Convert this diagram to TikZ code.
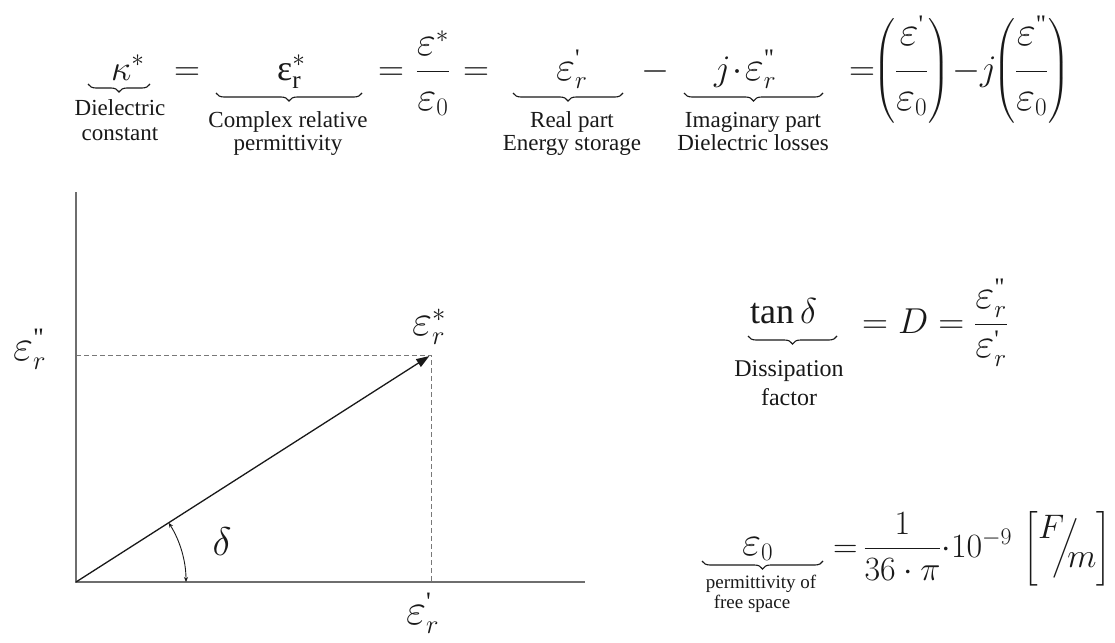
\RequirePackage{fix-cm}
\documentclass[tikz,border=0pt]{standalone}
\usepackage{amsmath}
\usepackage{graphicx}
\usepackage{fontspec}
\setmainfont{Liberation Serif}
\usetikzlibrary{arrows.meta,decorations.pathreplacing}
\newcommand\sqm{\text{\textquotesingle}}
\newcommand\dqm{\text{\textquotedbl}}
\newcommand\ueps{\text{\upshape ε}}
\newcommand\ve{\mathord{\scalebox{1.15}{$\varepsilon$}}}
\newcommand\numdepth{\rule[-0.6em]{0pt}{0pt}}
\definecolor{axisgray}{RGB}{110,110,110}
\definecolor{guidegray}{RGB}{120,120,120}
\definecolor{ink}{RGB}{25,25,25}
\tikzset{
  mathnode/.style={font=\fontsize{36}{40}\selectfont, inner sep=0pt, anchor=base west, text=ink},
  lbl/.style={font=\fontsize{23}{25}\selectfont, inner sep=0pt, anchor=base, text=ink},
  ubrace/.style={decorate, decoration={brace, mirror, amplitude=8pt}, line width=1.1pt, draw=ink},
  axisline/.style={line width=2pt, draw=axisgray},
  guide/.style={line width=1pt, draw=guidegray, dash pattern=on 5pt off 3pt},
  vec/.style={line width=1.3pt, draw=ink, -{Triangle[length=13pt,width=9pt]}, shorten >=2pt},
  anglearc/.style={line width=0.9pt, draw=ink, {Stealth[length=5pt,width=4pt]}-{Stealth[length=5pt,width=4pt]}},
}
\begin{document}
\begin{tikzpicture}[x=1pt,y=-1pt]
\useasboundingbox[fill=white] (0,0) rectangle (1115,642);

% ---------- top equation ----------
\node[mathnode] (kap) at (111,80) {$\kappa^{*}$};
\node[mathnode, anchor=base] (eq1) at (187,80) {$=$};
\node[mathnode] (epsr) at (277,80) {$\ueps_{\mathrm{r}}^{*}$};
\node[mathnode, anchor=base] (eq2) at (391,80) {$=$};
\node[mathnode, anchor=base] (fr1) at (433,80) {$\dfrac{\ve^{*}\rule[-0.1em]{0pt}{0pt}}{\rule{0pt}{1.0em}\ve_{0}}$};
\node[mathnode, anchor=base] (eq3) at (476,80) {$=$};
\node[mathnode] (epsp) at (556,80) {$\ve_{r}^{\sqm}$};
\node[mathnode, anchor=base] (minus1) at (655,80) {$-$};
\node[mathnode] (jeps) at (714,80) {$j\!\cdot\!\ve_{r}^{\dqm}$};
\node[mathnode, anchor=base] (eq4) at (862,80) {$=$};
\node[mathnode] (p1) at (873,80) {$\left(\dfrac{\ve^{\sqm}\numdepth}{\rule{0pt}{1.0em}\ve_{0}}\right)$};
\node[mathnode] (mj) at (952,80) {$-j$};
\node[mathnode] (p2) at (993,80) {$\left(\dfrac{\ve^{\dqm}\numdepth}{\rule{0pt}{1.0em}\ve_{0}}\right)$};

\draw[ubrace] (88,84) -- (150,84);
\draw[ubrace] (216,93) -- (362,93);
\draw[ubrace] (513,93) -- (623,93);
\draw[ubrace] (684,93) -- (823,93);

\node[lbl] (l1a) at (120,115) {Dielectric};
\node[lbl] (l1b) at (120,140) {constant};
\node[lbl] (l2a) at (288,127) {Complex relative};
\node[lbl] (l2b) at (288,150) {permittivity};
\node[lbl] (l3a) at (572,127) {Real part};
\node[lbl] (l3b) at (572,150) {Energy storage};
\node[lbl] (l4a) at (753,127) {Imaginary part};
\node[lbl] (l4b) at (753,150) {Dielectric losses};

% ---------- plot ----------
\coordinate (O) at (76,582);
\coordinate (Ytop) at (76,192);
\coordinate (Xend) at (585,582);
\coordinate (P) at (431,355);
\coordinate (Py) at (76,355);
\coordinate (Px) at (431,582);
\draw[guide] (Py) -- (P) -- (Px);
\draw[axisline] (Ytop) -- (O) -- (Xend);
\draw[vec] (O) -- (P);
\draw[anglearc] (186,582) arc[start angle=0, end angle=-32.6, radius=110];

\node[font=\fontsize{40}{44}\selectfont, inner sep=0pt, text=ink] (delta) at (222,542) {$\delta$};
\node[mathnode, font=\fontsize{38}{44}\selectfont] (lepsy) at (13,360) {$\ve_{r}^{\dqm}$};
\node[mathnode, font=\fontsize{38}{44}\selectfont] (lepsp) at (412,335) {$\ve_{r}^{*}$};
\node[mathnode, font=\fontsize{38}{44}\selectfont] (lepsx) at (406,624) {$\ve_{r}^{\sqm}$};

% ---------- tan delta ----------
\node[mathnode] (tand) at (750,323) {$\tan\delta$};
\draw[ubrace] (748,336) -- (837,336);
\node[lbl, font=\fontsize{24}{29}\selectfont] (l5a) at (789,376) {Dissipation};
\node[lbl, font=\fontsize{24}{29}\selectfont] (l5b) at (789,405) {factor};
\node[mathnode] (deq) at (862,333) {$= D = \dfrac{\ve_{r}^{\dqm}}{\ve_{r}^{\sqm}}$};

% ---------- eps0 ----------
\node[mathnode] (e0) at (742,555) {$\ve_{0}$};
\draw[ubrace] (702,561) -- (823,561);
\node[lbl, font=\fontsize{19}{21}\selectfont] (l6a) at (761,588) {permittivity of};
\node[lbl, font=\fontsize{19}{21}\selectfont] (l6b) at (752,608) {free space};
\node[mathnode, font=\fontsize{34}{40}\selectfont] (e0eq) at (833,557) {${=}\,\dfrac{1}{36\cdot\pi}{\cdot}10^{-9}\,\left[\raisebox{0.55em}{$F$}\!\!\Big/\!\!\raisebox{-0.3em}{$m$}\right]$};
\end{tikzpicture}
\end{document}
